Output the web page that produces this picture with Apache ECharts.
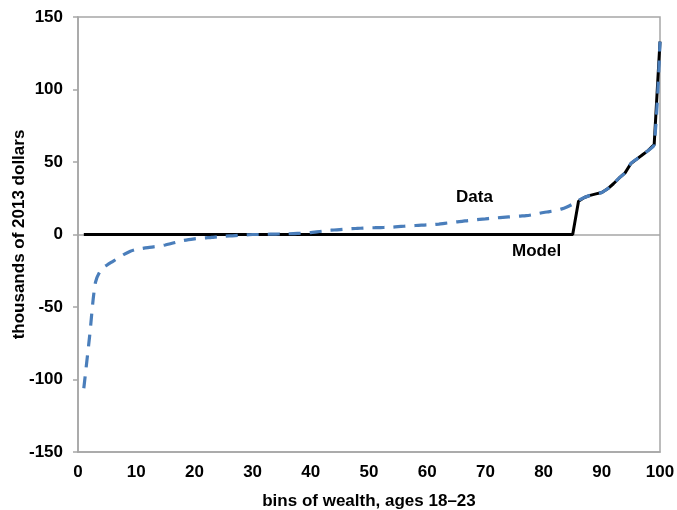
<!DOCTYPE html>
<html>
<head>
<meta charset="utf-8">
<script src="https://cdn.jsdelivr.net/npm/echarts@6/dist/echarts.min.js"></script>
<style>
  html, body { margin: 0; padding: 0; background: #fff; }
  #chart { width: 677px; height: 510px; }
</style>
</head>
<body>
<div id="chart"></div>
<script>
// bins 1..100
var bins = [1,2,3,4,5,6,7,8,9,10,11,12,13,14,15,16,17,18,19,20,
  21,22,23,24,25,26,27,28,29,30,31,32,33,34,35,36,37,38,39,40,
  41,42,43,44,45,46,47,48,49,50,51,52,53,54,55,56,57,58,59,60,
  61,62,63,64,65,66,67,68,69,70,71,72,73,74,75,76,77,78,79,80,
  81,82,83,84,85,86,87,88,89,90,91,92,93,94,95,96,97,98,99,100];

// data (thousands of 2013 dollars)
var dataVals = [-106,-70,-33,-24,-21,-18.5,-16,-13.5,-11.5,-10.3,
  -9.6,-9,-8.5,-8,-7.2,-6.2,-5.2,-4.2,-3.5,-3,
  -2.6,-2.3,-2,-1.6,-1.3,-1,-0.8,-0.5,-0.3,0,
  0,0.1,0.2,0.3,0.4,0.5,0.6,0.8,1,1.3,
  1.8,2.3,2.8,3.1,3.4,3.7,4,4.2,4.4,4.6,
  4.7,4.8,4.9,5.1,5.4,5.7,6,6.2,6.4,6.6,
  6.8,7.2,7.7,8.2,8.7,9.1,9.6,10,10.4,10.8,
  11.2,11.5,11.8,12.1,12.4,12.7,13,13.6,14.4,15.2,
  15.8,16.5,17.5,19,21,23.5,25.5,27,28,29,
  31.5,35,39,42.5,49,52,55,58,62,133];

// model
var modelVals = [0,0,0,0,0,0,0,0,0,0,0,0,0,0,0,0,0,0,0,0,
  0,0,0,0,0,0,0,0,0,0,0,0,0,0,0,0,0,0,0,0,
  0,0,0,0,0,0,0,0,0,0,0,0,0,0,0,0,0,0,0,0,
  0,0,0,0,0,0,0,0,0,0,0,0,0,0,0,0,0,0,0,0,
  0,0,0,0,0,23,25.5,27,28,29,31.5,35,39,42.5,49,52,55,58,62,133];

var xTicks = [0, 100, 10];
var yTicks = [-150, 150, 50];

function pairs(vals) {
  return bins.map(function (b, i) { return [b, vals[i]]; });
}

var font = 'Liberation Sans, Arial, sans-serif';
var chart = echarts.init(document.getElementById('chart'));
chart.setOption({
  animation: false,
  grid: {
    left: 78, right: 17, top: 17, bottom: 58, outerBoundsMode: 'none',
    show: true, borderColor: '#a6a6a6', borderWidth: 1.5
  },
  xAxis: {
    type: 'value', min: xTicks[0], max: xTicks[1], interval: xTicks[2],
    name: 'bins of wealth, ages 18\u201323', nameLocation: 'middle', nameGap: 41,
    nameMoveOverlap: false,
    nameTextStyle: { fontFamily: font, fontWeight: 'bold', fontSize: 17, color: '#000' },
    axisLine: { onZero: false, lineStyle: { color: '#a6a6a6', width: 1.5 } },
    axisTick: { show: false },
    splitLine: { show: false },
    axisLabel: { fontFamily: font, fontWeight: 'bold', fontSize: 17, color: '#000', margin: 12 }
  },
  yAxis: {
    type: 'value', min: yTicks[0], max: yTicks[1], interval: yTicks[2],
    name: 'thousands of 2013 dollars', nameLocation: 'middle', nameGap: 50,
    nameMoveOverlap: false,
    nameTextStyle: { fontFamily: font, fontWeight: 'bold', fontSize: 17, color: '#000' },
    axisLine: { show: true, lineStyle: { color: '#a6a6a6', width: 1.5 } },
    axisTick: { show: true, length: 5, lineStyle: { color: '#a6a6a6', width: 1.5 } },
    splitLine: { show: false },
    axisLabel: { fontFamily: font, fontWeight: 'bold', fontSize: 17, color: '#000', margin: 15 }
  },
  series: [
    {
      name: 'Model', type: 'line', data: pairs(modelVals), showSymbol: false,
      lineStyle: { color: '#000', width: 3 }, z: 2,
      markLine: {
        silent: true, symbol: 'none', label: { show: false },
        lineStyle: { color: '#a6a6a6', width: 1.5, type: 'solid' },
        data: [{ yAxis: 0 }], z: 1
      }
    },
    {
      name: 'Data', type: 'line', data: pairs(dataVals), showSymbol: false, smooth: 0.3,
      lineStyle: { color: '#4a7ebb', width: 3.2, type: [12, 9] }, z: 3
    }
  ],
  graphic: [
    { type: 'text', left: 456, top: 189, style: { text: 'Data', font: 'bold 17px ' + font, fill: '#000' } },
    { type: 'text', left: 512, top: 243, style: { text: 'Model', font: 'bold 17px ' + font, fill: '#000' } }
  ]
});
</script>
</body>
</html>
